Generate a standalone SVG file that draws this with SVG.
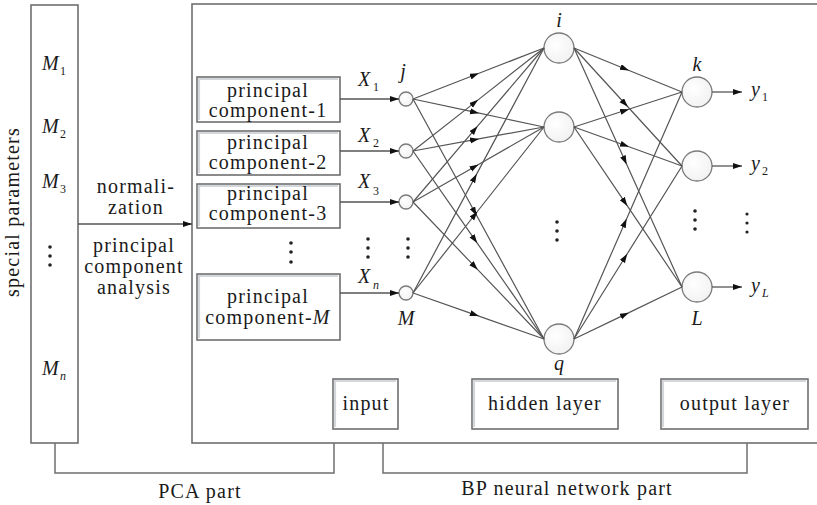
<svg xmlns="http://www.w3.org/2000/svg" width="817" height="505" viewBox="0 0 817 505">
  <defs>
    <marker id="mid-arrow" markerWidth="9" markerHeight="7" refX="4.5" refY="3" orient="auto" markerUnits="userSpaceOnUse">
      <path d="M0,0 L9,3 L0,6 z" fill="#111"/>
    </marker>
    <marker id="end-arrow" markerWidth="9" markerHeight="7" refX="9" refY="3" orient="auto" markerUnits="userSpaceOnUse">
      <path d="M0,0 L9,3 L0,6 z" fill="#111"/>
    </marker>
    <radialGradient id="node-fill" cx="0.4" cy="0.4" r="0.7">
      <stop offset="0" stop-color="#ffffff"/>
      <stop offset="1" stop-color="#f0f0f0"/>
    </radialGradient>
  </defs>
  <style>
    .frame { fill: #ffffff; stroke: #6f6f6f; stroke-width: 1.6; }
    .bevel { fill: none; stroke: #d3d7dc; stroke-width: 2.2; }
    .label { font-family: "Liberation Serif", "Times New Roman", serif; font-size: 20px; letter-spacing: 1.2px; fill: #1a1a1a; text-anchor: middle; }
    .math { font-family: "Liberation Serif", "Times New Roman", serif; font-style: italic; font-size: 20px; fill: #1a1a1a; }
    .sub { font-family: "Liberation Serif", "Times New Roman", serif; font-size: 12px; fill: #1a1a1a; }
    .subi { font-family: "Liberation Serif", "Times New Roman", serif; font-style: italic; font-size: 12px; fill: #1a1a1a; }
    .node { fill: url(#node-fill); stroke: #7a7a7a; stroke-width: 1.3; }
    .link { fill: none; stroke: #555; stroke-width: 1.2; marker-mid: url(#mid-arrow); }
    .feed { fill: none; stroke: #555; stroke-width: 1.3; marker-end: url(#end-arrow); }
    .bracket { fill: none; stroke: #6f6f6f; stroke-width: 1.5; }
    .dot { fill: #222; }
  </style>

  <!-- parameter column -->
  <g id="params">
    <rect class="frame" x="31" y="5" width="47" height="438"/>
    <text class="math" x="42" y="70">M</text><text class="sub" x="60" y="75">1</text>
    <text class="math" x="42" y="133">M</text><text class="sub" x="60" y="138">2</text>
    <text class="math" x="42" y="188">M</text><text class="sub" x="60" y="193">3</text>
    <circle class="dot" cx="50" cy="247" r="1.8"/>
    <circle class="dot" cx="50" cy="256" r="1.8"/>
    <circle class="dot" cx="50" cy="265" r="1.8"/>
    <text class="math" x="42" y="375">M</text><text class="subi" x="60" y="380">n</text>
  </g>
  <text class="label" transform="translate(19,212) rotate(-90)" x="0" y="0">special parameters</text>

  <!-- preprocessing step -->
  <g id="preprocess">
    <text class="label" x="136" y="193">normali-</text>
    <text class="label" x="136" y="214">zation</text>
    <text class="label" x="134" y="252">principal</text>
    <text class="label" x="134" y="273">component</text>
    <text class="label" x="134" y="294">analysis</text>
  </g>

  <!-- network frame -->
  <g id="network-frame">
    <rect class="frame" x="192" y="4" width="640" height="439"/>
  </g>

  <!-- principal component boxes -->
  <g id="pc1">
    <rect class="frame" x="197" y="77" width="143" height="45"/>
    <polyline class="bevel" points="199,120 199,79 338,79"/>
    <text class="label" x="268" y="97">principal</text>
    <text class="label" x="268" y="117">component-1</text>
  </g>
  <g id="pc2">
    <rect class="frame" x="197" y="131" width="143" height="44"/>
    <polyline class="bevel" points="199,173 199,133 338,133"/>
    <text class="label" x="268" y="149">principal</text>
    <text class="label" x="268" y="169">component-2</text>
  </g>
  <g id="pc3">
    <rect class="frame" x="197" y="184" width="143" height="44"/>
    <polyline class="bevel" points="199,226 199,186 338,186"/>
    <text class="label" x="268" y="200">principal</text>
    <text class="label" x="268" y="220">component-3</text>
  </g>
  <g id="pc-dots">
    <circle class="dot" cx="291" cy="243" r="1.8"/>
    <circle class="dot" cx="291" cy="252" r="1.8"/>
    <circle class="dot" cx="291" cy="262" r="1.8"/>
  </g>
  <g id="pcM">
    <rect class="frame" x="197" y="274" width="143" height="66"/>
    <polyline class="bevel" points="199,338 199,276 338,276"/>
    <text class="label" x="268" y="303">principal</text>
    <text class="label" x="268" y="324">component-<tspan font-style="italic">M</tspan></text>
  </g>

  <!-- input layer -->
  <g id="in-j">
    <circle class="node" cx="406" cy="99" r="7"/>
    <text class="math" x="403" y="78" text-anchor="middle">j</text>
    <text class="math" x="358" y="86">X</text><text class="sub" x="373" y="91">1</text>
  </g>
  <g id="in-2">
    <circle class="node" cx="406" cy="151" r="7"/>
    <text class="math" x="358" y="142">X</text><text class="sub" x="373" y="147">2</text>
  </g>
  <g id="in-3">
    <circle class="node" cx="406" cy="202" r="7"/>
    <text class="math" x="358" y="188">X</text><text class="sub" x="373" y="195">3</text>
  </g>
  <g id="in-dots">
    <circle class="dot" cx="368" cy="239" r="1.8"/>
    <circle class="dot" cx="368" cy="248" r="1.8"/>
    <circle class="dot" cx="368" cy="257" r="1.8"/>
    <circle class="dot" cx="408" cy="239" r="1.8"/>
    <circle class="dot" cx="408" cy="248" r="1.8"/>
    <circle class="dot" cx="408" cy="257" r="1.8"/>
  </g>
  <g id="in-M">
    <circle class="node" cx="406" cy="293" r="7"/>
    <text class="math" x="358" y="283">X</text><text class="subi" x="373" y="289">n</text>
    <text class="math" x="406" y="325" text-anchor="middle">M</text>
  </g>

  <!-- hidden layer -->
  <g id="hid-i">
    <circle class="node" cx="559" cy="48" r="15"/>
    <text class="math" x="559" y="27" text-anchor="middle">i</text>
  </g>
  <g id="hid-2">
    <circle class="node" cx="559" cy="127" r="15"/>
  </g>
  <g id="hid-dots">
    <circle class="dot" cx="557" cy="222" r="1.8"/>
    <circle class="dot" cx="557" cy="231" r="1.8"/>
    <circle class="dot" cx="557" cy="240" r="1.8"/>
  </g>
  <g id="hid-q">
    <circle class="node" cx="559" cy="339" r="15"/>
    <text class="math" x="559" y="370" text-anchor="middle">q</text>
  </g>

  <!-- output layer -->
  <g id="out-k">
    <circle class="node" cx="697" cy="92" r="15"/>
    <text class="math" x="697" y="71" text-anchor="middle">k</text>
    <text class="math" x="751" y="96">y</text><text class="sub" x="762" y="101">1</text>
  </g>
  <g id="out-2">
    <circle class="node" cx="697" cy="166" r="15"/>
    <text class="math" x="751" y="170">y</text><text class="sub" x="762" y="175">2</text>
  </g>
  <g id="out-dots">
    <circle class="dot" cx="695" cy="211" r="1.8"/>
    <circle class="dot" cx="695" cy="220" r="1.8"/>
    <circle class="dot" cx="695" cy="229" r="1.8"/>
    <circle class="dot" cx="747" cy="214" r="1.6"/>
    <circle class="dot" cx="747" cy="223" r="1.6"/>
    <circle class="dot" cx="747" cy="232" r="1.6"/>
  </g>
  <g id="out-L">
    <circle class="node" cx="697" cy="287" r="15"/>
    <text class="math" x="697" y="325" text-anchor="middle">L</text>
    <text class="math" x="751" y="292">y</text><text class="subi" x="762" y="297">L</text>
  </g>

  <!-- layer captions -->
  <g id="cap-input">
    <rect class="frame" x="333" y="379" width="65" height="50"/>
    <polyline class="bevel" points="335,427 335,381 396,381"/>
    <text class="label" x="366" y="410">input</text>
  </g>
  <g id="cap-hidden">
    <rect class="frame" x="472" y="379" width="146" height="50"/>
    <polyline class="bevel" points="474,427 474,381 616,381"/>
    <text class="label" x="545" y="410">hidden layer</text>
  </g>
  <g id="cap-output">
    <rect class="frame" x="661" y="379" width="147" height="50"/>
    <polyline class="bevel" points="663,427 663,381 806,381"/>
    <text class="label" x="735" y="410">output layer</text>
  </g>

  <!-- connectors -->
  <g id="connectors">
    <path class="feed" d="M78,224 H192"/>
    <path class="feed" d="M340,99 H399"/>
    <path class="feed" d="M340,151 H399"/>
    <path class="feed" d="M340,202 H399"/>
    <path class="feed" d="M340,293 H399"/>

    <!-- input to hidden -->
    <path class="link" d="M413,99 L474.6,75 L544,48"/>
    <path class="link" d="M413,99 L474.6,112.2 L544,127"/>
    <path class="link" d="M413,99 L474.6,211.8 L544,339"/>
    <path class="link" d="M413,151 L474.6,102.6 L544,48"/>
    <path class="link" d="M413,151 L474.6,139.7 L544,127"/>
    <path class="link" d="M413,151 L474.6,239.4 L544,339"/>
    <path class="link" d="M413,202 L474.6,129.6 L544,48"/>
    <path class="link" d="M413,202 L474.6,166.75 L544,127"/>
    <path class="link" d="M413,202 L474.6,266.4 L544,339"/>
    <path class="link" d="M413,293 L474.6,177.85 L544,48"/>
    <path class="link" d="M413,293 L474.6,215 L544,127"/>
    <path class="link" d="M413,293 L474.6,314.6 L544,339"/>

    <!-- hidden to output -->
    <path class="link" d="M574,48 L624.8,68.7 L682,92"/>
    <path class="link" d="M574,48 L624.8,103.5 L682,166"/>
    <path class="link" d="M574,48 L624.8,160.3 L682,287"/>
    <path class="link" d="M574,127 L624.8,110.55 L682,92"/>
    <path class="link" d="M574,127 L624.8,145.3 L682,166"/>
    <path class="link" d="M574,127 L624.8,202.2 L682,287"/>
    <path class="link" d="M574,339 L624.8,222.9 L682,92"/>
    <path class="link" d="M574,339 L624.8,257.7 L682,166"/>
    <path class="link" d="M574,339 L624.8,314.6 L682,287"/>

    <!-- outputs -->
    <path class="feed" d="M712,92 H742"/>
    <path class="feed" d="M712,166 H742"/>
    <path class="feed" d="M712,287 H742"/>

    <!-- part brackets -->
    <path class="bracket" d="M55,443 V473 H334 V443"/>
    <path class="bracket" d="M383,443 V473 H747 V443"/>
  </g>

  <text class="label" x="200" y="498">PCA part</text>
  <text class="label" x="567" y="495">BP neural network part</text>
</svg>
